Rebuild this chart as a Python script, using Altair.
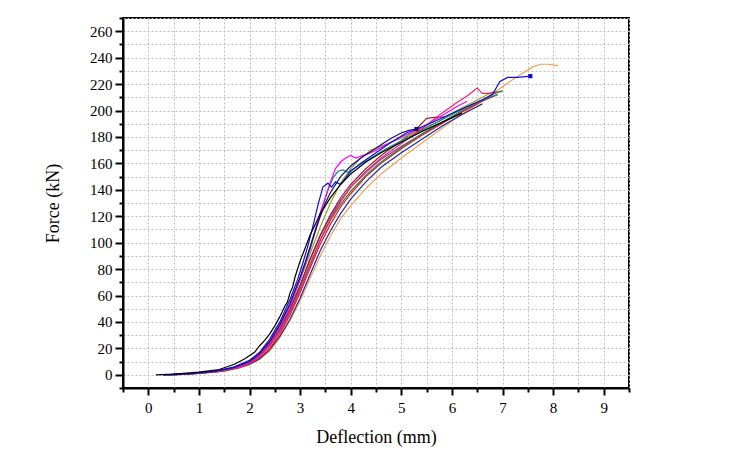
import altair as alt
import pandas as pd

# ---- data ----
black_x = [0.15,0.5,1.0,1.4,1.7,1.9,2.1,2.2,2.3,2.4,2.5,2.6,2.7,2.75,2.8,2.85,2.9,3.0,3.1,3.2,3.3,3.4,3.5,3.6,3.8,4.0,4.3,4.6,5.0,5.4,5.8,6.2]
black_y = [0,0.5,2,4,8,12,17,22,26,31,37,44,52,55,62,66,74,86,96,106,114,122,128,134,144,152,161,168,176,184,191,198]

blue_x = [0.3,0.8,1.3,1.7,2.0,2.2,2.4,2.6,2.8,2.95,3.05,3.15,3.25,3.35,3.45,3.55,3.62,3.7,3.8,3.9,4.0,4.2,4.5,4.8,5.1,5.5,5.9,6.3,6.6,6.8,6.95,7.1,7.3,7.55]
blue_y = [0,0.8,2.5,6,11,17,27,40,57,72,84,97,112,128,142,145,142,146,144,149,154,160,168,176,183,189,196,203,208,212,222,225,225,226]

navy_x = [0.3,0.8,1.3,1.7,2.0,2.2,2.4,2.6,2.8,3.0,3.1,3.2,3.3,3.4,3.5,3.6,3.8,4.0,4.2,4.4,4.6,4.8,5.0,5.15,5.3]
navy_y = [0,0.8,2.5,5.5,10,16,25,38,54,74,85,97,109,120,130,138,150,158,164,169,174,179,183,185,186]

magenta_x = [0.4,0.9,1.4,1.8,2.0,2.2,2.4,2.6,2.8,3.0,3.15,3.3,3.4,3.5,3.6,3.7,3.8,3.9,4.0,4.1,4.25,4.4,4.7,5.0,5.4,5.8,6.1,6.3]
magenta_y = [0,1,3,6,9.5,15,24,36,52,72,90,110,123,134,146,156,161,164,166,164,166,168,174,180,187,196,203,207]

pink_x = [0.4,0.9,1.4,1.8,2.0,2.2,2.4,2.6,2.8,3.0,3.2,3.4,3.6,3.8,4.0,4.3,4.6,5.0,5.4,5.8,6.1,6.3,6.5,6.6,6.75,6.9]
pink_y = [0,1,3,6,9,14,22,33,47,64,83,102,118,131,142,154,164,175,186,198,206,211,217,213,213,214]

teal_x = [0.3,0.8,1.3,1.7,2.0,2.2,2.4,2.6,2.8,3.0,3.2,3.35,3.45,3.55,3.65,3.75,3.85,3.95,4.1,4.4,4.7,5.0,5.4,5.8,6.2,6.6,6.9]
teal_y = [0,0.8,2.5,5.5,10,16,25,37,53,72,95,115,128,140,149,154,155,153,157,164,171,177,185,193,201,208,212]

green_x = [0.4,0.9,1.4,1.8,2.0,2.2,2.4,2.6,2.8,3.0,3.2,3.4,3.6,3.8,4.0,4.3,4.6,5.0,5.4,5.8,6.2,6.6,6.85,7.0]
green_y = [0,0.8,2.5,6,9,14,22,33,47,65,84,102,117,129,139,151,161,172,182,191,200,208,213,215]

olive_x = [0.4,0.9,1.4,1.8,2.0,2.2,2.4,2.6,2.8,3.0,3.2,3.4,3.6,3.8,4.0,4.2,4.4,4.6,4.8,5.0,5.3,5.7,6.1,6.5,6.8,7.0]
olive_y = [0,1,3,6,10,16,25,37,53,72,92,112,130,145,156,164,170,173,176,179,184,191,200,208,214,214]

brown_x = [0.4,0.9,1.4,1.8,2.0,2.2,2.4,2.6,2.8,3.0,3.2,3.4,3.6,3.8,4.0,4.3,4.6,5.0,5.3,5.5,5.7,5.9]
brown_y = [0,1,3,6,9.5,15,23,35,50,68,88,106,121,134,144,156,166,177,186,194,195,195]

red_x = [0.4,0.9,1.4,1.8,2.0,2.2,2.4,2.6,2.8,3.0,3.2,3.4,3.6,3.8,4.0,4.3,4.6,5.0,5.4,5.8,6.2,6.6,6.9]
red_y = [0,0.8,2.5,5.5,8.5,13,20,31,45,62,81,99,114,127,137,150,160,171,181,190,199,207,212]

purple_x = [0.3,0.9,1.4,1.8,2.0,2.2,2.4,2.6,2.8,3.0,3.2,3.4,3.6,3.8,4.0,4.3,4.6,5.0,5.4,5.8,6.2,6.5]
purple_y = [0,1,3,6,9,14,22,34,49,67,87,105,120,132,142,153,163,173,182,191,199,205]

darkblue_x = [0.5,1.0,1.5,1.8,2.0,2.2,2.4,2.6,2.8,3.0,3.2,3.4,3.6,3.8,4.0,4.3,4.6,5.0,5.4,5.8,6.2,6.6]
darkblue_y = [0,1,3,5.5,8,12,19,29,42,58,76,94,109,122,133,146,157,168,178,188,197,205]

orange_x = [0.5,1.0,1.5,1.8,2.0,2.2,2.4,2.6,2.8,3.0,3.2,3.4,3.6,3.8,4.0,4.3,4.6,5.0,5.5,6.0,6.5,7.0,7.3,7.6,7.75,7.9,8.1]
orange_y = [0,1,2.5,5,7.5,12,18,28,41,56,73,90,105,118,128,141,152,164,178,192,205,218,226,233,235,235,234]

series_names = ["orange", "darkblue", "purple", "red", "brown", "olive", "green",
                "teal", "pink", "magenta", "navy", "blue", "black"]
series_colors = ["#f2a054", "#1c2a9c", "#9b30c8", "#ff1010", "#8b2a2a", "#a0a020", "#1f8a3a",
                 "#108888", "#f0206a", "#ff00ff", "#101070", "#1010d0", "#000000"]
series_data = {
    "orange": (orange_x, orange_y), "darkblue": (darkblue_x, darkblue_y),
    "purple": (purple_x, purple_y), "red": (red_x, red_y), "brown": (brown_x, brown_y),
    "olive": (olive_x, olive_y), "green": (green_x, green_y), "teal": (teal_x, teal_y),
    "pink": (pink_x, pink_y), "magenta": (magenta_x, magenta_y), "navy": (navy_x, navy_y),
    "blue": (blue_x, blue_y), "black": (black_x, black_y),
}

marker_series = ["navy", "blue"]
marker_x = [5.3, 7.55]
marker_y = [186, 226]

x_ticks = [v / 2 for v in range(-1, 20)]
y_ticks = list(range(-10, 271, 10))

rows = []
for name in series_names:
    xs, ys = series_data[name]
    for i, (a, b) in enumerate(zip(xs, ys)):
        rows.append({"x": a, "y": b, "series": name, "i": i})
df = pd.DataFrame(rows)
mk = pd.DataFrame({"x": marker_x, "y": marker_y, "series": marker_series})

FONT = "Liberation Serif"
color_scale = alt.Scale(domain=series_names, range=series_colors)

x_enc = alt.X("x:Q", scale=alt.Scale(domain=[-0.5, 9.5], nice=False, zero=False),
              axis=alt.Axis(title="Deflection (mm)", values=x_ticks, tickCount=100,
                            labelOverlap=False,
                            labelExpr="datum.value % 1 === 0 ? format(datum.value, 'd') : ''",
                            tickSize={"condition": {"test": "datum.value % 1 === 0", "value": 7}, "value": 4},
                            labelPadding=5, titlePadding=13))
y_enc = alt.Y("y:Q", scale=alt.Scale(domain=[-10, 270], nice=False, zero=False),
              axis=alt.Axis(title="Force (kN)", values=y_ticks, tickCount=100,
                            labelOverlap=False,
                            labelExpr="datum.value % 20 === 0 ? format(datum.value, 'd') : ''",
                            tickSize={"condition": {"test": "datum.value % 20 === 0", "value": 8}, "value": 4},
                            labelPadding=3, titlePadding=27))

lines = alt.Chart(df).mark_line(strokeWidth=1.2).encode(
    x=x_enc, y=y_enc,
    color=alt.Color("series:N", scale=color_scale, legend=None),
    detail="series:N",
    order="i:Q",
)
markers = alt.Chart(mk).mark_point(shape="square", filled=True, size=18, opacity=1).encode(
    x="x:Q", y="y:Q",
    color=alt.Color("series:N", scale=color_scale, legend=None),
)

chart = (lines + markers).properties(
    width=506, height=370,
    autosize=alt.AutoSizeParams(type="none"),
    padding={"left": 123, "top": 18, "right": 120, "bottom": 66},
    background="white",
).configure_view(
    stroke="black", strokeWidth=2
).configure_axis(
    labelFont=FONT, titleFont=FONT, labelFontSize=15, titleFontSize=18,
    titleFontWeight="normal", labelColor="black", titleColor="black",
    domainColor="black", domainWidth=2, tickColor="black", tickWidth=2,
    gridColor="#bdbdbd", gridDash=[2, 2], gridWidth=1,
)

chart.save("out.html", embed_options={"renderer": "svg", "actions": False})
